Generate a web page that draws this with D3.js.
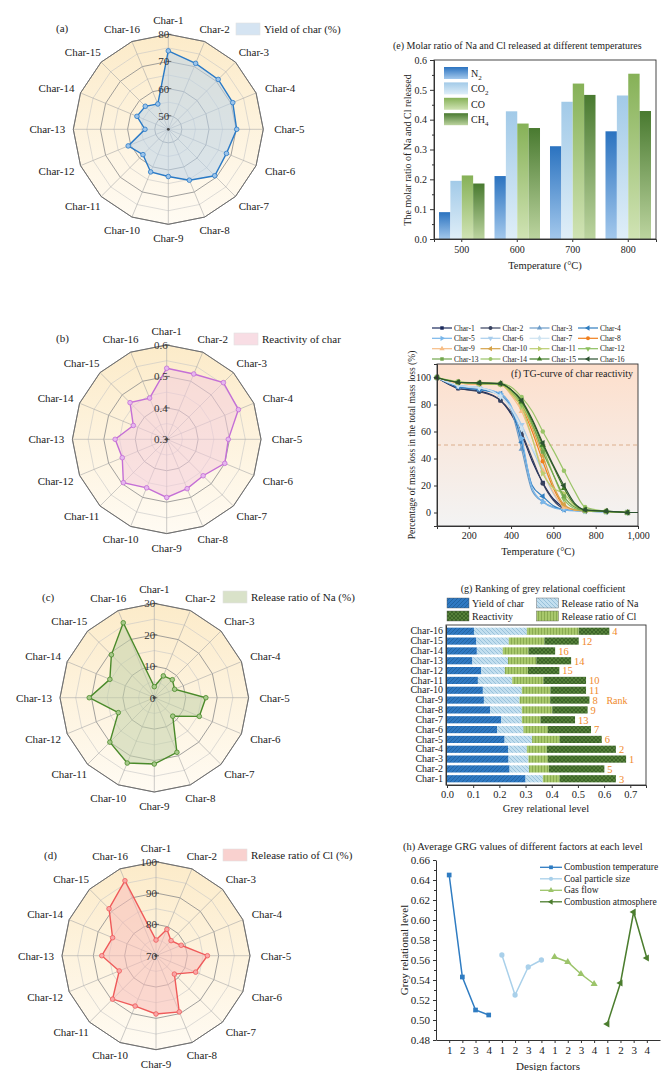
<!DOCTYPE html>
<html>
<head>
<meta charset="utf-8">
<script src="https://cdnjs.cloudflare.com/ajax/libs/d3/7.8.5/d3.min.js"></script>
<style>
  body { margin: 0; background: #fff; }
  svg { display: block; }
</style>
</head>
<body>
<div id="chart"></div>
<script>
// ---- data ----
var radarCats = ["Char-1","Char-2","Char-3","Char-4","Char-5","Char-6","Char-7","Char-8",
                 "Char-9","Char-10","Char-11","Char-12","Char-13","Char-14","Char-15","Char-16"];

var yieldChar  = [73.9, 71.3, 71.0, 70.7, 70.2, 68.2, 69.2, 65.3, 62.4, 62.0, 58.2, 61.0, 53.6, 57.5, 57.0, 55.1];
var reactivity = [0.526, 0.525, 0.555, 0.547, 0.496, 0.500, 0.464, 0.470, 0.485, 0.467, 0.495, 0.453, 0.464, 0.415, 0.465, 0.442];
var releaseNa  = [3.5, 7.5, 8.1, 7.0, 16.4, 15.5, 8.3, 18.8, 21.1, 22.5, 20.0, 12.4, 20.7, 15.3, 19.3, 25.8];
var releaseCl  = [75.0, 79.1, 76.8, 78.7, 86.4, 83.7, 78.3, 89.4, 88.6, 87.4, 89.6, 82.7, 87.3, 85.0, 91.2, 95.9];

// (e) molar ratio
var eTemps  = ["500","600","700","800"];
var gasKeys = ["N2","CO2","CO","CH4"];
var gasN2  = [0.090, 0.211, 0.311, 0.361];
var gasCO2 = [0.195, 0.428, 0.460, 0.481];
var gasCO  = [0.213, 0.387, 0.521, 0.554];
var gasCH4 = [0.186, 0.372, 0.483, 0.429];

// (f) TG curves
var tgTemps = [50, 150, 250, 350, 400, 450, 500, 550, 600, 650, 700, 750, 850, 950, 1000];
var tgChar1  = [100, 92.0, 90.0, 83.0, 73, 58, 38, 22.0, 10, 4.0, 2.0, 1.5, 0.8, 0, 0];
var tgChar2  = [100, 92.0, 89.5, 83.0, 74, 59, 40, 21.5, 9, 3.0, 1.8, 1.3, 0.8, 0, 0];
var tgChar3  = [100, 93.0, 91.0, 87.0, 76, 47, 16, 8.0, 4, 2.5, 1.5, 1.0, 0.5, 0, 0];
var tgChar4  = [100, 93.0, 91.0, 88.0, 78, 52, 20, 12.0, 5, 2.0, 1.5, 1.0, 0.5, 0, 0];
var tgChar5  = [100, 94.0, 92.5, 88.0, 79, 55, 18, 8.0, 3.5, 2.0, 1.2, 1.0, 0.5, 0, 0];
var tgChar6  = [100, 94.0, 92.5, 86.0, 78, 65, 47, 30.0, 14, 4.0, 2.0, 1.2, 0.5, 0, 0];
var tgChar7  = [100, 94.0, 92.5, 86.0, 77, 62, 48, 34.0, 18, 5.0, 2.0, 1.2, 0.5, 0, 0];
var tgChar8  = [100, 96.0, 95.0, 95.0, 88, 78, 60, 38.0, 18, 5.0, 2.0, 1.3, 0.8, 0, 0];
var tgChar9  = [100, 96.0, 95.0, 95.0, 87, 75, 55, 31.0, 15, 4.0, 2.0, 1.3, 0.8, 0, 0];
var tgChar10 = [100, 96.5, 95.5, 95.0, 89, 80, 63, 42.0, 20, 6.0, 2.0, 1.3, 0.8, 0, 0];
var tgChar11 = [100, 96.5, 95.5, 95.0, 88, 78, 55, 29.0, 18, 14.0, 5.0, 1.5, 0.8, 0, 0];
var tgChar12 = [100, 96.5, 95.5, 95.0, 90, 80, 65, 48.0, 28, 10.0, 3.0, 1.5, 0.8, 0, 0];
var tgChar13 = [100, 96.5, 96.0, 95.0, 91, 83, 66, 45.0, 28, 12.0, 4.0, 1.5, 0.8, 0, 0];
var tgChar14 = [100, 97.0, 96.0, 95.5, 93, 85.5, 75, 60.0, 46, 31.0, 16.0, 4.0, 1.0, 0, 0];
var tgChar15 = [100, 96.5, 96.0, 95.5, 91, 82, 68, 50.0, 34, 18.0, 6.0, 2.0, 1.0, 0, 0];
var tgChar16 = [100, 96.5, 96.0, 95.5, 91, 83, 69, 51.5, 35, 20.0, 7.0, 2.0, 1.0, 0, 0];
var tgSeries = [tgChar1, tgChar2, tgChar3, tgChar4, tgChar5, tgChar6, tgChar7, tgChar8,
                tgChar9, tgChar10, tgChar11, tgChar12, tgChar13, tgChar14, tgChar15, tgChar16];

// (g) grey relational coefficients (stacked)
var greyYield = [0.300, 0.239, 0.235, 0.233, 0.220, 0.191, 0.207, 0.165, 0.141, 0.137, 0.118, 0.131, 0.097, 0.114, 0.112, 0.103];
var greyNa    = [0.066, 0.074, 0.076, 0.072, 0.105, 0.101, 0.079, 0.121, 0.136, 0.149, 0.131, 0.090, 0.136, 0.099, 0.124, 0.202];
var greyCl    = [0.064, 0.076, 0.074, 0.076, 0.105, 0.093, 0.071, 0.116, 0.117, 0.109, 0.119, 0.088, 0.108, 0.098, 0.136, 0.198];
var greyReact = [0.215, 0.212, 0.299, 0.264, 0.161, 0.165, 0.132, 0.135, 0.150, 0.136, 0.163, 0.120, 0.133, 0.102, 0.131, 0.117];
var greyRank  = [3, 5, 1, 2, 6, 7, 13, 9, 8, 11, 10, 15, 14, 16, 12, 4];

// (h) average GRG per level
var hLevels  = ["1","2","3","4"];
var hFactors = ["Combustion temperature","Coal particle size","Gas flow","Combustion atmosphere"];
var hTemp  = [0.645, 0.543, 0.510, 0.505];
var hSize  = [0.565, 0.525, 0.553, 0.560];
var hFlow  = [0.563, 0.558, 0.546, 0.536];
var hAtmos = [0.496, 0.537, 0.608, 0.562];

// ---- svg ----
const svg = d3.select("#chart").append("svg")
    .attr("width", 667).attr("height", 1071)
    .style("font-family", "'Liberation Serif','Times New Roman',serif");
const defs = svg.append("defs");

function vGrad(id, top, bottom) {
  const gr = defs.append("linearGradient").attr("id", id)
    .attr("x1", 0).attr("y1", 0).attr("x2", 0).attr("y2", 1);
  gr.append("stop").attr("offset", "0%").attr("stop-color", top);
  gr.append("stop").attr("offset", "100%").attr("stop-color", bottom);
}
vGrad("radarBg", "#fcebc9", "#fffbf3");
vGrad("tgBg", "#fddfcc", "#f3f3f3");
vGrad("gradN2", "#2b73c0", "#a3c8ec");
vGrad("gradCO2", "#a2cae8", "#dfeef8");
vGrad("gradCO", "#86b157", "#d0e3b4");
vGrad("gradCH4", "#497a30", "#bcd49f");

function hatch(id, size, bg, stroke, d, sw) {
  const p = defs.append("pattern").attr("id", id)
    .attr("patternUnits", "userSpaceOnUse").attr("width", size).attr("height", size);
  p.append("rect").attr("width", size).attr("height", size).attr("fill", bg);
  p.append("path").attr("d", d).attr("stroke", stroke).attr("stroke-width", sw).attr("fill", "none");
}
hatch("patYield", 4, "#2f79c2", "#1a558f", "M0,4 L4,0 M-1,1 L1,-1 M3,5 L5,3", 0.6);
hatch("patNa", 4, "#c3dfef", "#7aaccb", "M0,0 L4,4 M-1,3 L1,5 M3,-1 L5,1", 0.6);
hatch("patCl", 3, "#a8c86c", "#7c9f45", "M1.5,0 L1.5,3", 0.7);
hatch("patReact", 4, "#55803a", "#2c501d", "M0,0 L4,4 M0,4 L4,0", 0.6);

function styleAxis(g, fs) {
  g.attr("font-family", null).attr("font-size", fs);
  g.selectAll("text").attr("fill", "#222");
  g.selectAll("line").attr("stroke", "#333");
  g.select(".domain").attr("stroke", "#333");
}

// ---- radar panels ----
function drawRadar(o) {
  const n = radarCats.length;
  const r = d3.scaleLinear().domain([o.min, o.max]).range([0, o.R]);
  const ang = i => i * 2 * Math.PI / n;
  const pt = (i, rad) => [o.cx + rad * Math.sin(ang(i)), o.cy - rad * Math.cos(ang(i))];
  const ring = rad => d3.range(n).map(i => pt(i, rad));
  const closed = d3.line().curve(d3.curveLinearClosed);
  const g = svg.append("g");

  g.append("path").attr("d", closed(ring(o.R))).attr("fill", "url(#radarBg)");

  const levels = d3.range(1, Math.round((o.max - o.min) / o.step) + 1).map(k => o.min + k * o.step);
  const isMajor = v => o.ticks.some(t => Math.abs(t - v) < 1e-6);
  g.selectAll(".ring").data(levels).join("path")
    .attr("d", v => closed(ring(r(v))))
    .attr("fill", "none")
    .attr("stroke", v => isMajor(v) ? "#8a8a8a" : "#c6c6c6")
    .attr("stroke-width", v => isMajor(v) ? 0.8 : 0.6);
  g.selectAll(".spoke").data(d3.range(n)).join("line")
    .attr("x1", o.cx).attr("y1", o.cy)
    .attr("x2", i => pt(i, o.R)[0]).attr("y2", i => pt(i, o.R)[1])
    .attr("stroke", "#a8a8a8").attr("stroke-width", 0.6);
  g.append("path").attr("d", closed(ring(o.R)))
    .attr("fill", "none").attr("stroke", "#6f6f6f").attr("stroke-width", 1);

  // data polygon
  const pts = o.values.map((v, i) => pt(i, r(v)));
  g.append("path").attr("d", closed(pts))
    .attr("fill", o.fill).attr("fill-opacity", 0.55)
    .attr("stroke", o.color).attr("stroke-width", 1.4);
  g.selectAll(".dot").data(pts).join("circle")
    .attr("cx", d => d[0]).attr("cy", d => d[1]).attr("r", 2.3)
    .attr("fill", o.mfill).attr("stroke", o.color).attr("stroke-width", 0.8);

  // radial ticks along Char-1 axis
  g.selectAll(".tkl").data(o.ticks).join("line")
    .attr("x1", o.cx - 2).attr("x2", o.cx + 3)
    .attr("y1", v => o.cy - r(v)).attr("y2", v => o.cy - r(v))
    .attr("stroke", "#444").attr("stroke-width", 0.7);
  g.selectAll(".tk").data(o.ticks).join("text")
    .attr("x", o.cx + 1).attr("y", v => o.cy - r(v) + 4)
    .attr("text-anchor", "end").attr("font-size", 11).attr("fill", "#333")
    .text(o.fmt);
  g.append("circle").attr("cx", o.cx).attr("cy", o.cy).attr("r", 1.4).attr("fill", "#444");

  // category labels
  g.selectAll(".cat").data(radarCats).join("text")
    .attr("x", (d, i) => o.cx + Math.sin(ang(i)) * (o.R + 26))
    .attr("y", (d, i) => o.cy - Math.cos(ang(i)) * (o.R + 14) + 4)
    .attr("text-anchor", "middle").attr("font-size", 11).attr("fill", "#222")
    .text(d => d);

  // legend + panel letter
  g.append("rect").attr("x", o.lx).attr("y", o.ly).attr("width", 24).attr("height", 12)
    .attr("fill", o.swatch).attr("stroke", "#e2e2e2").attr("stroke-width", 0.6);
  g.append("text").attr("x", o.lx + 28).attr("y", o.ly + 10).attr("font-size", 11).attr("fill", "#222")
    .text(o.legend);
  g.append("text").attr("x", o.px).attr("y", o.py).attr("font-size", 11).attr("fill", "#222")
    .text(o.panel);
}

drawRadar({cx: 168.3, cy: 129.3, R: 95, min: 45, max: 80, step: 5, ticks: [50, 60, 70, 80],
  fmt: d3.format("d"), values: yieldChar, color: "#2a7ac6", fill: "#bcd3ea", mfill: "#9cc4ea",
  swatch: "#d5e4f2", legend: "Yield of char (%)", lx: 236, ly: 23, panel: "(a)", px: 56, py: 32});
drawRadar({cx: 166.7, cy: 439.3, R: 94.3, min: 0.3, max: 0.6, step: 0.05, ticks: [0.3, 0.4, 0.5, 0.6],
  fmt: d3.format(".1f"), values: reactivity, color: "#c46fd6", fill: "#f4cedc", mfill: "#e6b6ef",
  swatch: "#f8dde4", legend: "Reactivity of char", lx: 234, ly: 333, panel: "(b)", px: 56, py: 342});
drawRadar({cx: 154.3, cy: 697.7, R: 94.3, min: 0, max: 30, step: 5, ticks: [0, 10, 20, 30],
  fmt: d3.format("d"), values: releaseNa, color: "#4a8a2a", fill: "#c2d1aa", mfill: "#a7c98a",
  swatch: "#d9e2c9", legend: "Release ratio of Na (%)", lx: 223, ly: 591, panel: "(c)", px: 42, py: 601});
drawRadar({cx: 156, cy: 955.7, R: 94, min: 70, max: 100, step: 5, ticks: [70, 80, 90, 100],
  fmt: d3.format("d"), values: releaseCl, color: "#ef5a5a", fill: "#f8bdb9", mfill: "#f9a6a6",
  swatch: "#f9d1cf", legend: "Release ratio of Cl (%)", lx: 223, ly: 849, panel: "(d)", px: 44, py: 859});

// ---- (e) grouped bars ----
const eg = svg.append("g");
const ex = d3.scaleBand().domain(eTemps).range([434, 656]).paddingInner(0.18).paddingOuter(0.09);
const exs = d3.scaleBand().domain(gasKeys).range([0, ex.bandwidth()]);
const ey = d3.scaleLinear().domain([0, 0.6]).range([239, 60]);
const eRows = eTemps.map((t, i) => ({t: t, N2: gasN2[i], CO2: gasCO2[i], CO: gasCO[i], CH4: gasCH4[i]}));

eg.append("g").selectAll("g").data(eRows).join("g")
    .attr("transform", d => `translate(${ex(d.t)},0)`)
  .selectAll("rect").data(d => gasKeys.map(k => ({k: k, v: d[k]}))).join("rect")
    .attr("x", d => exs(d.k)).attr("y", d => ey(d.v))
    .attr("width", exs.bandwidth()).attr("height", d => ey(0) - ey(d.v))
    .attr("fill", d => `url(#grad${d.k})`);

eg.append("rect").attr("x", 434).attr("y", 60).attr("width", 222).attr("height", 179)
  .attr("fill", "none").attr("stroke", "#333").attr("stroke-width", 0.9);
eg.append("g").attr("transform", "translate(0,239)")
  .call(d3.axisBottom(ex).tickSize(3).tickPadding(4)).call(g => styleAxis(g, 10));
eg.append("g").attr("transform", "translate(434,0)")
  .call(d3.axisLeft(ey).ticks(6).tickFormat(d3.format(".1f")).tickSize(4)).call(g => styleAxis(g, 10));
eg.append("g").attr("transform", "translate(434,0)")
  .call(d3.axisLeft(ey).tickValues(d3.range(0.05, 0.6, 0.1)).tickSize(2).tickFormat(""))
  .call(g => { g.select(".domain").remove(); g.selectAll("line").attr("stroke", "#333"); });

const eLegend = [["N", "2"], ["CO", "2"], ["CO", ""], ["CH", "4"]];
eLegend.forEach((l, i) => {
  const y = 67 + i * 15.4;
  eg.append("rect").attr("x", 444).attr("y", y).attr("width", 24).attr("height", 12)
    .attr("fill", `url(#grad${gasKeys[i]})`);
  const t = eg.append("text").attr("x", 471).attr("y", y + 10).attr("font-size", 10).attr("fill", "#222");
  t.append("tspan").text(l[0]);
  if (l[1]) t.append("tspan").attr("font-size", 7).attr("dy", 2.5).text(l[1]);
});
eg.append("text").attr("x", 393).attr("y", 49).attr("font-size", 10).attr("fill", "#222")
  .text("(e) Molar ratio of Na and Cl released at different temperatures");
eg.append("text").attr("x", 545).attr("y", 269).attr("text-anchor", "middle").attr("font-size", 10.5)
  .attr("fill", "#222").text("Temperature (°C)");
eg.append("text").attr("transform", "translate(411,150) rotate(-90)").attr("text-anchor", "middle")
  .attr("font-size", 10).attr("fill", "#222").text("The molar ratio of Na and Cl released");

// ---- (f) TG curves ----
const fg = svg.append("g");
const fx = d3.scaleLinear().domain([50, 1000]).range([437, 638]);
const fy = d3.scaleLinear().domain([-10, 110]).range([526, 364]);
const tgColors = ["#1c2a5c", "#38425f", "#6b9bc8", "#2f7dc0", "#78b6ea", "#a8cdec", "#cde3f1", "#f07f1e",
                  "#f7bd85", "#d5a248", "#bccd70", "#8cbf5e", "#72a74e", "#9ac468", "#3f7a25", "#2c5230"];
const tgShapes = ["square", "circle", "up", "left", "right", "down", "diamond", "circle",
                  "up", "left", "right", "down", "square", "circle", "up", "left"];

function marker(sel, shape, color, size) {
  const type = shape === "square" ? d3.symbolSquare : shape === "circle" ? d3.symbolCircle :
               shape === "diamond" ? d3.symbolDiamond : d3.symbolTriangle;
  const rot = {up: 0, right: 90, down: 180, left: -90}[shape] || 0;
  sel.append("path").attr("d", d3.symbol().type(type).size(size)())
    .attr("fill", color).attr("transform", `rotate(${rot})`);
}

fg.append("rect").attr("x", 437).attr("y", 364).attr("width", 201).attr("height", 162).attr("fill", "url(#tgBg)");
fg.append("line").attr("x1", 437).attr("x2", 638).attr("y1", fy(50)).attr("y2", fy(50))
  .attr("stroke", "#dcae8c").attr("stroke-width", 1).attr("stroke-dasharray", "4,3");

const tgLine = d3.line().x(d => fx(d[0])).y(d => fy(d[1])).curve(d3.curveMonotoneX);
tgSeries.forEach((vals, s) => {
  const pts = tgTemps.map((t, i) => [t, vals[i]]);
  fg.append("path").attr("d", tgLine(pts)).attr("fill", "none")
    .attr("stroke", tgColors[s]).attr("stroke-width", 1.2);
  pts.filter(p => (p[0] - 50) % 100 === 0 && p[0] <= 950).forEach(p => {
    const m = fg.append("g").attr("transform", `translate(${fx(p[0])},${fy(p[1])})`);
    marker(m, tgShapes[s], tgColors[s], 16);
  });
});

fg.append("rect").attr("x", 437).attr("y", 364).attr("width", 201).attr("height", 162)
  .attr("fill", "none").attr("stroke", "#333").attr("stroke-width", 0.9);
fg.append("g").attr("transform", "translate(0,526)")
  .call(d3.axisBottom(fx).tickValues([200, 400, 600, 800, 1000]).tickSize(3)).call(g => styleAxis(g, 10));
fg.append("g").attr("transform", "translate(437,0)")
  .call(d3.axisLeft(fy).tickValues(d3.range(0, 101, 20)).tickSize(3)).call(g => styleAxis(g, 10));
fg.append("text").attr("x", 633).attr("y", 377).attr("text-anchor", "end").attr("font-size", 10)
  .attr("fill", "#222").text("(f) TG-curve of char reactivity");
fg.append("text").attr("x", 538).attr("y", 555).attr("text-anchor", "middle").attr("font-size", 10.5)
  .attr("fill", "#222").text("Temperature (°C)");
fg.append("text").attr("transform", "translate(415,445) rotate(-90)").attr("text-anchor", "middle")
  .attr("font-size", 9.5).attr("fill", "#222").text("Percentage of mass loss in the total mass loss (%)");

// legend 4 x 4
const fLegX = [432, 480.5, 529.5, 578];
const fLegY = [328, 338.3, 348.7, 359];
radarCats.forEach((c, s) => {
  const x = fLegX[s % 4], y = fLegY[Math.floor(s / 4)];
  fg.append("line").attr("x1", x).attr("x2", x + 20).attr("y1", y).attr("y2", y)
    .attr("stroke", tgColors[s]).attr("stroke-width", 1.2);
  marker(fg.append("g").attr("transform", `translate(${x + 10},${y})`), tgShapes[s], tgColors[s], 12);
  fg.append("text").attr("x", x + 22).attr("y", y + 2.6).attr("font-size", 7.5).attr("fill", "#222").text(c);
});

// ---- (g) stacked grey relational bars ----
const gg = svg.append("g");
const gx = d3.scaleLinear().domain([0, 0.76]).range([447, 646]);
const gy = d3.scaleBand().domain(radarCats.slice().reverse()).range([625, 785]).padding(0.27);
const gRows = radarCats.map((c, i) => ({cat: c, yield: greyYield[i], na: greyNa[i], cl: greyCl[i], react: greyReact[i], rank: greyRank[i]}));
const gKeys = ["yield", "na", "cl", "react"];
const gFill = {yield: "url(#patYield)", na: "url(#patNa)", cl: "url(#patCl)", react: "url(#patReact)"};
const stacked = d3.stack().keys(gKeys)(gRows);

gg.append("g").selectAll("g").data(stacked).join("g")
    .attr("fill", d => gFill[d.key])
  .selectAll("rect").data(d => d).join("rect")
    .attr("x", d => gx(d[0])).attr("width", d => gx(d[1]) - gx(d[0]))
    .attr("y", d => gy(d.data.cat)).attr("height", gy.bandwidth());

gg.selectAll(".rank").data(gRows).join("text")
  .attr("x", d => gx(d.yield + d.na + d.cl + d.react) + 3)
  .attr("y", d => gy(d.cat) + gy.bandwidth() / 2 + 3.8)
  .attr("font-size", 10.5).attr("fill", "#f08a2c").text(d => d.rank);
gg.append("text").attr("x", 617).attr("y", 704).attr("text-anchor", "middle").attr("font-size", 10)
  .attr("fill", "#f08a2c").text("Rank");

gg.append("rect").attr("x", 446).attr("y", 625).attr("width", 200).attr("height", 160)
  .attr("fill", "none").attr("stroke", "#333").attr("stroke-width", 0.9);
gg.append("g").attr("transform", "translate(0,785)")
  .call(d3.axisBottom(gx).tickValues(d3.range(0, 0.71, 0.1)).tickFormat(d3.format(".1f")).tickSize(3))
  .call(g => styleAxis(g, 10.5));
gg.append("g").attr("transform", "translate(446,0)")
  .call(d3.axisLeft(gy).tickSize(0).tickPadding(3)).call(g => styleAxis(g, 10));
gg.append("text").attr("x", 543).attr("y", 591.5).attr("text-anchor", "middle").attr("font-size", 10)
  .attr("fill", "#222").text("(g) Ranking of grey relational coefficient");
gg.append("text").attr("x", 546).attr("y", 812).attr("text-anchor", "middle").attr("font-size", 10.5)
  .attr("fill", "#222").text("Grey relational level");

const gLegend = [["Yield of char", "yield", 447, 598], ["Release ratio of Na", "na", 536.5, 598],
                 ["Reactivity", "react", 447, 611], ["Release ratio of Cl", "cl", 536.5, 611]];
gLegend.forEach(l => {
  gg.append("rect").attr("x", l[2]).attr("y", l[3]).attr("width", 22).attr("height", 10)
    .attr("fill", gFill[l[1]]).attr("stroke", "#555").attr("stroke-width", 0.4);
  gg.append("text").attr("x", l[2] + 25).attr("y", l[3] + 8.5).attr("font-size", 10).attr("fill", "#222").text(l[0]);
});

// ---- (h) GRG per factor level ----
const hg = svg.append("g");
const hx = d3.scaleLinear().domain([0, 17]).range([436, 660]);
const hy = d3.scaleLinear().domain([0.48, 0.66]).range([1040, 860]);
const hSeries = [hTemp, hSize, hFlow, hAtmos];
const hColors = ["#2f7cc2", "#a9d0ea", "#9cc46a", "#4b7d2e"];
const hShapes = ["square", "circle", "up", "left"];
const hLine = d3.line().x(d => hx(d[0])).y(d => hy(d[1]));

hSeries.forEach((vals, s) => {
  const pts = vals.map((v, i) => [s * 4 + i + 1, v]);
  hg.append("path").attr("d", hLine(pts)).attr("fill", "none")
    .attr("stroke", hColors[s]).attr("stroke-width", 1.5);
  pts.forEach(p => marker(hg.append("g").attr("transform", `translate(${hx(p[0])},${hy(p[1])})`),
    hShapes[s], hColors[s], 22));
});

hg.append("g").attr("transform", "translate(0,1040)")
  .call(d3.axisBottom(hx).tickValues(d3.range(1, 17)).tickFormat(d => hLevels[(d - 1) % 4]).tickSize(3).tickSizeOuter(0))
  .call(g => styleAxis(g, 11));
hg.append("g").attr("transform", "translate(436,0)")
  .call(d3.axisLeft(hy).tickValues(d3.range(0.48, 0.661, 0.02)).tickFormat(d3.format(".2f")).tickSize(3).tickSizeOuter(0))
  .call(g => styleAxis(g, 11));
hg.append("g").attr("transform", "translate(436,0)")
  .call(d3.axisLeft(hy).tickValues(d3.range(0.49, 0.66, 0.02)).tickSize(2).tickFormat(""))
  .call(g => { g.select(".domain").remove(); g.selectAll("line").attr("stroke", "#333"); });

hg.append("text").attr("x", 403).attr("y", 849.5).attr("font-size", 10.5).attr("fill", "#222")
  .text("(h) Average GRG values of different factors at each level");
hg.append("text").attr("x", 548).attr("y", 1070).attr("text-anchor", "middle").attr("font-size", 11)
  .attr("fill", "#222").text("Design factors");
hg.append("text").attr("transform", "translate(408,950) rotate(-90)").attr("text-anchor", "middle")
  .attr("font-size", 11).attr("fill", "#222").text("Grey relational level");

hFactors.forEach((f, s) => {
  const y = 867.3 + s * 11.5;
  hg.append("line").attr("x1", 540).attr("x2", 562).attr("y1", y).attr("y2", y)
    .attr("stroke", hColors[s]).attr("stroke-width", 1.3);
  marker(hg.append("g").attr("transform", `translate(551,${y})`), hShapes[s], hColors[s], 14);
  hg.append("text").attr("x", 564).attr("y", y + 3).attr("font-size", 9.5).attr("fill", "#222").text(f);
});
</script>
</body>
</html>
